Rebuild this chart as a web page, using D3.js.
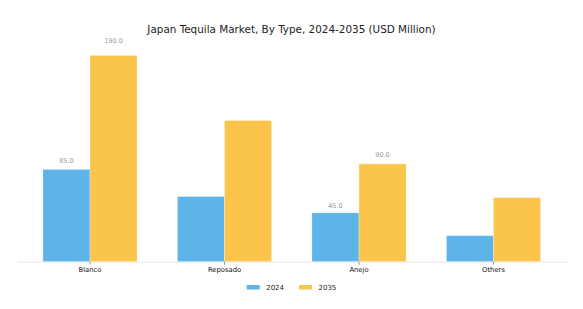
<!DOCTYPE html>
<html>
<head>
<meta charset="utf-8">
<script src="https://cdn.jsdelivr.net/npm/d3@7"></script>
<style>
  body { margin: 0; background: #fff; }
  text { font-family: 'DejaVu Sans', sans-serif; }
</style>
</head>
<body>
<div id="graf"></div>
<script>
const tipos = ['Blanco', 'Reposado', 'Anejo', 'Others']
const series = ['2024', '2035']
const valores2024 = [85, 60, 45, 24]
const valores2035 = [190, 130, 90, 59]
const etiquetas2024 = ['85.0', null, '45.0', null]
const etiquetas2035 = ['190.0', null, '90.0', null]
const colores = ['#5db4e8', '#fbc44b']

const anchoTotal = 583
const altoTotal = 309

const svg = d3.select('#graf')
  .append('svg')
  .attr('width', anchoTotal)
  .attr('height', altoTotal)

const base = 261.7
const x = d3.scaleBand()
  .domain(tipos)
  .range([22.75, 560.75])
  .paddingInner(0.3)
  .paddingOuter(0.15)

const xs = d3.scaleBand()
  .domain(series)
  .range([0, x.bandwidth()])

const y = d3.scaleLinear()
  .domain([0, 190])
  .range([base, 55.3])

svg.append('text')
  .attr('x', 291.5)
  .attr('y', 33)
  .attr('text-anchor', 'middle')
  .attr('font-size', 10.4)
  .attr('fill', '#222')
  .text('Japan Tequila Market, By Type, 2024-2035 (USD Million)')

const datos = tipos.map((t, i) => ({
  tipo: t,
  vals: [
    { s: '2024', v: valores2024[i], lab: etiquetas2024[i], c: colores[0] },
    { s: '2035', v: valores2035[i], lab: etiquetas2035[i], c: colores[1] },
  ],
}))

const grupos = svg.selectAll('g.grupo')
  .data(datos)
  .enter()
  .append('g')
  .attr('class', 'grupo')
  .attr('transform', (d) => `translate(${x(d.tipo)}, 0)`)

grupos.selectAll('rect')
  .data((d) => d.vals)
  .enter()
  .append('rect')
  .attr('x', (d) => xs(d.s))
  .attr('y', (d) => y(d.v))
  .attr('width', xs.bandwidth())
  .attr('height', (d) => base - y(d.v))
  .attr('fill', (d) => d.c)
  .attr('stroke', '#ffffff')
  .attr('stroke-opacity', 0.5)
  .attr('stroke-width', 0.6)

// etiquetas un poco arriba de cada barra (5% del valor)
grupos.selectAll('text.etiqueta')
  .data((d) => d.vals.filter((v) => v.lab))
  .enter()
  .append('text')
  .attr('class', 'etiqueta')
  .attr('x', (d) => xs(d.s) + xs.bandwidth() / 2)
  .attr('y', (d) => y(d.v * 1.05) - 2)
  .attr('text-anchor', 'middle')
  .attr('font-size', 6.5)
  .attr('fill', '#999')
  .text((d) => d.lab)

// eje inferior
svg.append('line')
  .attr('x1', 18)
  .attr('x2', 567)
  .attr('y1', base + 0.5)
  .attr('y2', base + 0.5)
  .attr('stroke', '#e6e6e6')
  .attr('stroke-width', 1)

const eje = svg.append('g')
  .attr('transform', `translate(0, ${base})`)
  .call(d3.axisBottom(x).tickSize(3).tickSizeOuter(0))
eje.select('.domain').remove()
eje.selectAll('line').attr('stroke', '#555').attr('stroke-width', 0.6)
eje.selectAll('text')
  .attr('font-size', 6.8)
  .attr('font-family', "'DejaVu Sans', sans-serif")
  .attr('fill', '#111')
  .attr('dy', '0.6em')

// leyenda
const leyenda = svg.append('g')
const posLeyenda = [246.7, 299]
series.forEach((s, i) => {
  leyenda.append('rect')
    .attr('x', posLeyenda[i])
    .attr('y', 285)
    .attr('width', 13)
    .attr('height', 4.5)
    .attr('fill', colores[i])
  leyenda.append('text')
    .attr('x', posLeyenda[i] + 19.5)
    .attr('y', 290)
    .attr('font-size', 7)
    .attr('fill', '#222')
    .text(s)
})
</script>
</body>
</html>
